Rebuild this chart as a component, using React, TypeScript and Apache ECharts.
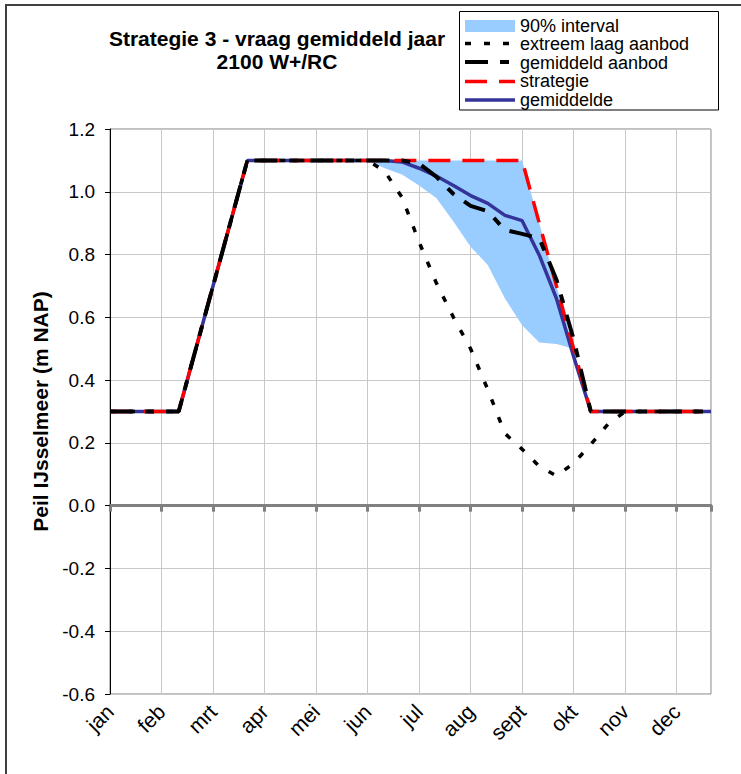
import React, { useEffect, useRef } from 'react';
import * as echarts from 'echarts';

// Month tick labels (every 3rd decade)
const months = ['jan', 'feb', 'mrt', 'apr', 'mei', 'jun', 'jul', 'aug', 'sept', 'okt', 'nov', 'dec'];

// 36 decade values (10-day periods), index 0..35
const strategie = [
  0.3, 0.3, 0.3, 0.3, 0.3, 0.5, 0.7, 0.9,
  1.1, 1.1, 1.1, 1.1, 1.1, 1.1, 1.1, 1.1, 1.1, 1.1, 1.1, 1.1, 1.1, 1.1, 1.1, 1.1, 1.1,
  0.9, 0.7, 0.5,
  0.3, 0.3, 0.3, 0.3, 0.3, 0.3, 0.3, 0.3,
];

const gemiddeldAanbod = [
  0.3, 0.3, 0.3, 0.3, 0.3, 0.5, 0.7, 0.9,
  1.1, 1.1, 1.1, 1.1, 1.1, 1.1, 1.1, 1.1, 1.1, 1.1,
  1.09, 1.048, 0.993, 0.955, 0.938, 0.878, 0.866, 0.852, 0.72, 0.53,
  0.3, 0.3, 0.3, 0.3, 0.3, 0.3, 0.3, 0.3,
];

const extreemLaag = [
  0.3, 0.3, 0.3, 0.3, 0.3, 0.5, 0.7, 0.9,
  1.1, 1.1, 1.1, 1.1, 1.1, 1.1, 1.1, 1.1,
  1.065, 0.983, 0.84, 0.71, 0.6, 0.5, 0.37, 0.23, 0.18, 0.125, 0.095, 0.135, 0.195, 0.26,
  0.3, 0.3, 0.3, 0.3, 0.3, 0.3,
];

const gemiddelde = [
  0.3, 0.3, 0.3, 0.3, 0.3, 0.5, 0.7, 0.9,
  1.1, 1.1, 1.1, 1.1, 1.1, 1.1, 1.1, 1.1, 1.1,
  1.095, 1.075, 1.05, 1.02, 0.988, 0.963, 0.925, 0.908, 0.798, 0.66, 0.475,
  0.3, 0.3, 0.3, 0.3, 0.3, 0.3, 0.3, 0.3,
];

const intervalOnder: (number | null)[] = [
  null, null, null, null, null, null, null, null, null, null, null, null, null, null, null,
  1.1, 1.075, 1.055, 1.02, 0.98, 0.905, 0.825, 0.767, 0.66, 0.575, 0.52, 0.515, 0.5,
  null, null, null, null, null, null, null, null,
];

const intervalBoven: (number | null)[] = [
  null, null, null, null, null, null, null, null, null, null, null, null, null, null, null,
  1.1, 1.1, 1.1, 1.1, 1.1, 1.1, 1.1, 1.1, 1.1, 1.1, 0.9, 0.7, 0.5,
  null, null, null, null, null, null, null, null,
];

const FONT = 'Liberation Sans, Arial, Helvetica, sans-serif';

const toPairs = (arr: (number | null)[]) => arr.map((v, i) => [i, v]);

export default function App() {
  const ref = useRef<HTMLDivElement>(null);

  useEffect(() => {
    if (!ref.current) return;
    const chart = echarts.init(ref.current, undefined, { renderer: 'svg' });

    const legendRows = [
      { y: 25.5, text: '90% interval' },
      { y: 44, text: 'extreem laag aanbod' },
      { y: 62.5, text: 'gemiddeld aanbod' },
      { y: 81, text: 'strategie' },
      { y: 99.5, text: 'gemiddelde' },
    ];

    const option: any = {
      animation: false,
      backgroundColor: '#ffffff',
      textStyle: { fontFamily: FONT },
      title: {
        text: 'Strategie 3 - vraag gemiddeld jaar\n2100 W+/RC',
        left: 277,
        top: 27,
        padding: 0,
        textAlign: 'center',
        textStyle: { fontSize: 21, fontWeight: 'bold', color: '#000', lineHeight: 23, fontFamily: FONT },
      },
      grid: {
        left: 110,
        top: 129,
        width: 601,
        height: 565,
        show: true,
        borderColor: '#808080',
        borderWidth: 1,
        backgroundColor: 'transparent',
      },
      xAxis: [
        {
          type: 'value',
          min: 0,
          max: 35,
          interval: 3,
          position: 'bottom',
          axisLine: { show: false, onZero: false },
          axisTick: { show: false },
          axisLabel: {
            rotate: 45,
            margin: 14,
            fontSize: 21,
            color: '#000',
            fontFamily: FONT,
            formatter: (v: number) => (v % 3 === 0 && months[v / 3] ? months[v / 3] : ''),
          },
          splitLine: { show: true, lineStyle: { color: '#c8c8c8', width: 1 } },
        },
        {
          type: 'value',
          min: 0,
          max: 35,
          interval: 3,
          position: 'bottom',
          axisLine: { show: true, onZero: true, lineStyle: { color: '#808080', width: 3 } },
          axisTick: { show: true, length: 6, lineStyle: { color: '#808080', width: 3 } },
          axisLabel: { show: false },
          splitLine: { show: false },
        },
      ],
      yAxis: {
        type: 'value',
        min: -0.6,
        max: 1.2,
        interval: 0.2,
        name: 'Peil IJsselmeer (m NAP)',
        nameLocation: 'middle',
        nameGap: 58,
        nameTextStyle: { fontSize: 21, fontWeight: 'bold', color: '#000', fontFamily: FONT },
        axisLine: { show: true, onZero: false, lineStyle: { color: '#000', width: 1 } },
        axisTick: { show: true, length: 5, lineStyle: { color: '#000' } },
        axisLabel: {
          margin: 15,
          fontSize: 19,
          color: '#000',
          fontFamily: FONT,
          formatter: (v: number) => (Math.abs(v) < 1e-9 ? '0.0' : v.toFixed(1)),
        },
        splitLine: { show: true, lineStyle: { color: '#c8c8c8', width: 1 } },
      },
      series: [
        {
          name: '90% interval',
          type: 'custom',
          coordinateSystem: 'cartesian2d',
          xAxisIndex: 0,
          yAxisIndex: 0,
          silent: true,
          data: [[0, 0]],
          renderItem: (_params: any, api: any) => {
            const top: number[][] = [];
            const bottom: number[][] = [];
            intervalBoven.forEach((u, i) => {
              if (u != null) top.push(api.coord([i, u]));
            });
            intervalOnder.forEach((l, i) => {
              if (l != null) bottom.push(api.coord([i, l]));
            });
            return {
              type: 'polygon',
              shape: { points: top.concat(bottom.reverse()) },
              style: { fill: '#99ccff', stroke: 'none' },
            };
          },
        },
        {
          name: 'gemiddelde',
          type: 'line',
          data: toPairs(gemiddelde),
          symbol: 'none',
          lineStyle: { color: '#333399', width: 3.5, type: 'solid' },
        },
        {
          name: 'strategie',
          type: 'line',
          data: toPairs(strategie),
          symbol: 'none',
          lineStyle: { color: '#ff0000', width: 3.5, type: [22, 12] },
        },
        {
          name: 'extreem laag aanbod',
          type: 'line',
          data: toPairs(extreemLaag),
          symbol: 'none',
          lineStyle: { color: '#000000', width: 3.5, type: [6, 13] },
        },
        {
          name: 'gemiddeld aanbod',
          type: 'line',
          data: toPairs(gemiddeldAanbod),
          symbol: 'none',
          lineStyle: { color: '#000000', width: 4, type: [23, 12, 9, 12] },
        },
      ],
      graphic: [
        {
          type: 'rect',
          z: -10,
          silent: true,
          shape: { x: 6, y: 5, width: 800, height: 820 },
          style: { fill: 'none', stroke: '#404040', lineWidth: 2 },
        },
        {
          type: 'group',
          z: 100,
          silent: true,
          children: [
            {
              type: 'rect',
              shape: { x: 459.5, y: 11.5, width: 259, height: 98.5 },
              style: { fill: '#ffffff', stroke: '#000000', lineWidth: 1 },
            },
            {
              type: 'rect',
              shape: { x: 465, y: 20, width: 50, height: 12 },
              style: { fill: '#99ccff' },
            },
            {
              type: 'line',
              shape: { x1: 465, y1: 43.5, x2: 515, y2: 43.5 },
              style: { stroke: '#000', lineWidth: 3.5, lineDash: [6, 13] },
            },
            {
              type: 'line',
              shape: { x1: 465, y1: 62, x2: 515, y2: 62 },
              style: { stroke: '#000', lineWidth: 4, lineDash: [23, 12, 9, 12] },
            },
            {
              type: 'line',
              shape: { x1: 465, y1: 81.5, x2: 515, y2: 81.5 },
              style: { stroke: '#ff0000', lineWidth: 3.5, lineDash: [22, 12] },
            },
            {
              type: 'line',
              shape: { x1: 465, y1: 100, x2: 515, y2: 100 },
              style: { stroke: '#333399', lineWidth: 3.5 },
            },
            ...legendRows.map((r) => ({
              type: 'text',
              x: 520,
              y: r.y,
              style: {
                text: r.text,
                fill: '#000',
                fontSize: 18,
                fontFamily: FONT,
                lineHeight: 17,
                verticalAlign: 'middle',
                align: 'left',
              },
            })),
          ],
        },
      ],
    };

    chart.setOption(option);
    return () => {
      chart.dispose();
    };
  }, []);

  return (
    <div
      ref={ref}
      style={{ position: 'absolute', left: 0, top: 0, width: 741, height: 774, background: '#fff' }}
    />
  );
}
